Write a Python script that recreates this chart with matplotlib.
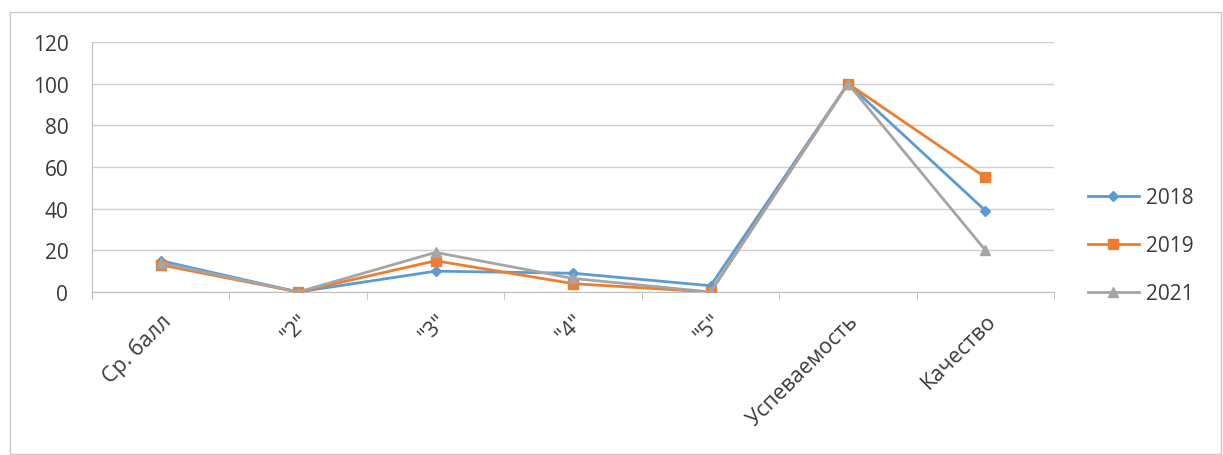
import matplotlib.pyplot as plt
from matplotlib.patches import Rectangle

plt.rcParams['font.family'] = ['Open Sans', 'DejaVu Sans']

# Data
categories = ['Ср. балл', '"2"', '"3"', '"4"', '"5"', 'Успеваемость', 'Качество']
values_2018 = [15, 0, 10, 9, 3, 100, 39]
values_2019 = [13, 0, 15, 4, 0, 100, 55]
values_2021 = [14, 0, 19, 6.5, 0, 100, 20]
series_labels = ['2018', '2019', '2021']

colors = ['#5B9BD5', '#ED7D31', '#A5A5A5']
markers = ['D', 's', '^']
msizes = [5.5, 7, 7]

fig = plt.figure(figsize=(12.23, 4.56), dpi=100)
ax = fig.add_axes([0.0752, 0.3575, 0.7868, 0.5482])

# Chart area border
fig.patches.append(Rectangle((10 / 1223, 0.002), 1211 / 1223, 1 - 13 / 456 - 0.002,
                             transform=fig.transFigure, fill=False,
                             edgecolor='#c8c8c8', linewidth=1))

x = list(range(len(categories)))
for vals, lab, c, m, ms in zip([values_2018, values_2019, values_2021],
                               series_labels, colors, markers, msizes):
    ax.plot(x, vals, color=c, marker=m, markersize=ms, linewidth=2,
            label=lab, zorder=3)

ax.set_ylim(0, 120)
ax.set_yticks(range(0, 121, 20))
ax.set_xlim(-0.5, len(categories) - 0.5)
ax.set_xticks(x)
ax.set_xticklabels(categories, rotation=45, ha='right', rotation_mode='anchor',
                   fontsize=15.5, color='#3a3a3a')
ax.set_xticks([i - 0.5 for i in range(len(categories) + 1)], minor=True)
ax.tick_params(axis='x', which='major', length=0, pad=13)
ax.tick_params(axis='x', which='minor', length=6, color='#bfbfbf', direction='out')
ax.tick_params(axis='y', length=0, labelsize=15, labelcolor='#3a3a3a', pad=17)

ax.grid(axis='y', color='#d0d0d0', linewidth=1)
ax.set_axisbelow(True)
for side in ['top', 'right']:
    ax.spines[side].set_visible(False)
ax.spines['left'].set_color('#bfbfbf')
ax.spines['bottom'].set_color('#bfbfbf')
ax.spines['left'].set_bounds(-3, 120)
ax.spines['left'].set_position(('data', -0.5))

ax.legend(loc='center left', bbox_to_anchor=(1.035, 0.185), frameon=False,
          fontsize=15, labelspacing=1.3, handlelength=2.45, handletextpad=0.35,
          borderaxespad=0, borderpad=0, labelcolor='#3a3a3a')

plt.savefig('out.png', dpi=100)
